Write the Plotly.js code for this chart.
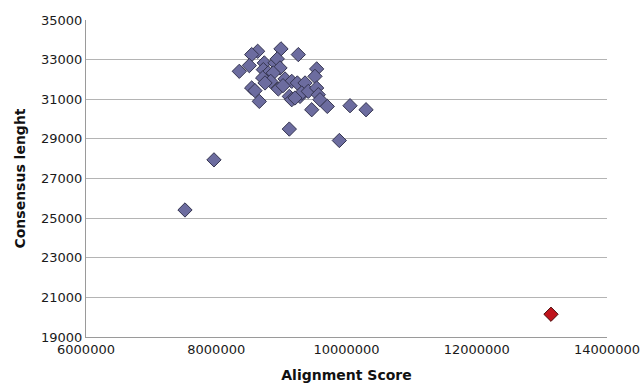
<!DOCTYPE html>
<html>
<head>
<meta charset="utf-8">
<script src="https://cdn.plot.ly/plotly-3.0.1.min.js"></script>
<style>html,body{margin:0;padding:0;background:#fff;}#chart{width:643px;height:388px;}</style>
</head>
<body>
<div id="chart"></div>
<script>
// Alignment score (x) and consensus length (y) for the main group
const alignmentScore = [
  8.636e6, 8.544e6, 8.994e6, 9.260e6, 8.354e6, 8.508e6, 8.738e6, 8.902e6, 8.937e6, 8.979e6,
  8.723e6, 8.799e6, 8.876e6, 8.713e6, 8.836e6, 8.749e6, 9.542e6, 9.516e6, 9.056e6, 9.159e6,
  9.245e6, 9.363e6, 8.953e6, 8.544e6, 8.595e6, 8.661e6, 9.122e6, 9.159e6, 9.286e6, 9.312e6,
  9.413e6, 9.542e6, 9.567e6, 9.593e6, 9.209e6, 9.466e6, 9.705e6, 10.054e6, 10.300e6, 9.122e6,
  9.890e6, 7.520e6, 7.965e6, 9.025e6
];
const consensusLength = [
  33421, 33254, 33543, 33254, 32409, 32698, 32834, 32834, 33037, 32581,
  32495, 32328, 32328, 32075, 31903, 31822, 32531, 32156, 32025, 31903,
  31822, 31822, 31519, 31569, 31433, 30891, 31144, 30977, 31144, 31316,
  31397, 31569, 31230, 30977, 31063, 30471, 30638, 30674, 30471, 29495,
  28918, 25411, 27941, 31686
];
// Outlier
const outlierScore = [13.14e6];
const outlierLength = [20149];

const yTicks = [19000, 21000, 23000, 25000, 27000, 29000, 31000, 33000, 35000];
const xTicks = [6000000, 8000000, 10000000, 12000000, 14000000];

const font = 'DejaVu Sans, Verdana, sans-serif';

const traces = [
  {
    x: alignmentScore, y: consensusLength, type: 'scatter', mode: 'markers',
    marker: {symbol: 'diamond', size: 11, color: '#6c6c9f', line: {color: '#34344f', width: 1}},
    hoverinfo: 'x+y'
  },
  {
    x: outlierScore, y: outlierLength, type: 'scatter', mode: 'markers',
    marker: {symbol: 'diamond', size: 11, color: '#c0141c', line: {color: '#4a1010', width: 1}},
    hoverinfo: 'x+y'
  }
];

const layout = {
  width: 643, height: 388,
  margin: {l: 86, r: 36, t: 20, b: 51},
  paper_bgcolor: '#fff', plot_bgcolor: '#fff',
  showlegend: false,
  font: {family: font, size: 13, color: '#1a1a1a'},
  xaxis: {
    range: [6000000, 14000000], tickvals: xTicks, ticktext: xTicks.map(String),
    showgrid: false, zeroline: false, showline: true, linecolor: '#9a9a9a', linewidth: 1,
    ticks: '', ticklen: 0, tickfont: {family: font, size: 13, color: '#1a1a1a'},
    title: {text: 'Alignment Score', font: {family: font, size: 14, color: '#111', weight: 'bold'}, standoff: 14}
  },
  yaxis: {
    range: [19000, 35000], tickvals: yTicks, ticktext: yTicks.map(String),
    showgrid: true, gridcolor: '#b4b4b4', gridwidth: 1, zeroline: false,
    showline: true, linecolor: '#9a9a9a', linewidth: 1,
    ticks: '', tickfont: {family: font, size: 13, color: '#1a1a1a'},
    title: {text: 'Consensus lenght', font: {family: font, size: 14, color: '#111', weight: 'bold'}, standoff: 12}
  }
};

Plotly.newPlot('chart', traces, layout, {displayModeBar: false, staticPlot: true});
</script>
</body>
</html>
